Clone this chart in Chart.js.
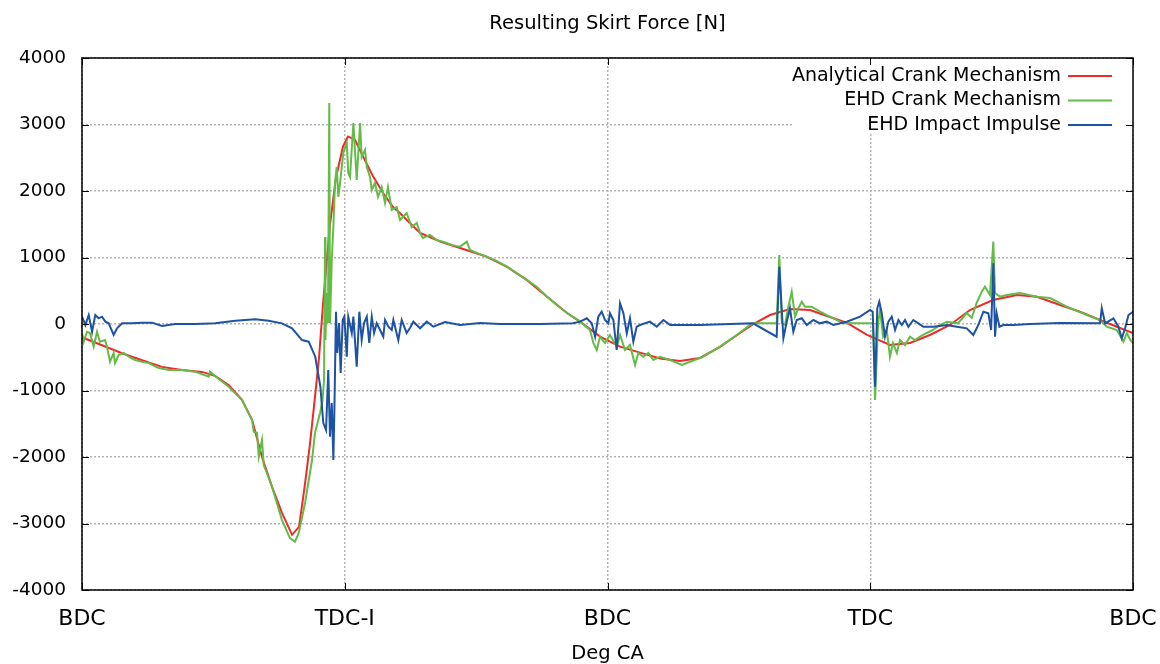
<!DOCTYPE html>
<html>
<head>
<meta charset="utf-8">
<script src="https://cdn.jsdelivr.net/npm/chart.js@4.4.1/dist/chart.umd.min.js"></script>
<style>
  html, body { margin: 0; padding: 0; background: #fff; }
</style>
</head>
<body>
<canvas id="chart" width="1160" height="664"></canvas>
<script>
// crank angle tick names (every 180 deg)
const crankLabels = ['BDC', 'TDC-I', 'BDC', 'TDC', 'BDC'];
const seriesNames = ['Analytical Crank Mechanism', 'EHD Crank Mechanism', 'EHD Impact Impulse'];

// Analytical crank mechanism
const analyticalDeg = [0, 13.7, 27.4, 41.1, 54.8, 68.5, 82.2, 91.1, 100.7, 109.6, 116.5, 123.3, 130.2, 137.0, 143.9, 148.7,
  152.8, 156.2, 159.6, 162.4, 165.1, 167.9, 169.9, 174.0, 178.8, 182.2, 187.0, 192.5, 199.4, 206.2, 213.1, 217.9, 222.7,
  231.6, 245.3, 263.8, 277.5, 291.2, 304.9, 318.6, 332.3, 341.2, 354.9, 368.6, 382.3, 396.0, 409.7, 423.4, 437.1, 450.8,
  461.1, 471.3, 485.0, 498.7, 512.4, 524.1, 537.8, 553.5, 567.2, 580.9, 594.6, 608.3, 624.1, 640.5, 654.2, 670.0, 683.7,
  697.4, 711.1, 720];
const analyticalForce = [-200, -320, -440, -545, -645, -690, -720, -780, -920, -1140, -1440, -2000, -2450, -2840, -3170, -3050,
  -2400, -1800, -1100, -500, 300, 1000, 1500, 2200, 2670, 2820, 2770, 2520, 2220, 1970, 1760, 1665, 1560,
  1370, 1240, 1110, 1010, 860, 660, 410, 165, 35, -190, -340, -430, -520, -555, -510, -345, -135,
  15, 135, 225, 210, 105, 15, -165, -315, -285, -165, -15, 210, 360, 435, 410, 285, 185,
  60, -60, -135];

// EHD crank mechanism
const ehdCrankDeg = [0, 1.2, 3.4, 5.5, 8.0, 10.3, 12.3, 15.8, 17.1, 19.2, 21.7, 22.6, 25.1, 28.6, 32.0, 36.3, 41.1, 45.7,
  52.5, 59.4, 68.5, 77.4, 86.8, 87.7, 91.1, 100.5, 109.6, 116.5, 117.7, 119.9, 121.1, 123.3, 124.5, 130.2, 137.0, 142.5,
  145.9, 148.5, 152.8, 157.6, 159.6, 163.1, 164.8, 165.8, 166.5, 166.8, 167.6, 168.5, 169.4, 169.9, 171.1, 172.2, 173.3,
  174.5, 175.6, 176.8, 179.0, 181.4, 182.4, 183.6, 185.9, 188.2, 190.5, 191.6, 193.9, 195.1, 197.3, 198.5, 200.7, 202.8,
  205.3, 207.6, 209.6, 212.2, 215.6, 217.9, 222.4, 225.9, 229.3, 231.6, 233.6, 238.4, 243.0, 246.5, 249.9, 253.0, 256.0,
  259.0, 263.6, 265.8, 270.5, 277.3, 284.0, 291.2, 298.0, 304.9, 311.5, 318.6, 325.0, 332.3, 341.2, 348.0, 350.3, 352.6,
  354.9, 358.3, 361.7, 366.3, 368.6, 372.0, 375.4, 378.9,
  381.1, 384.5, 388.0, 391.4, 396.0, 402.9, 410.9, 416.6, 425.7, 437.1, 448.5, 457.6, 461.1, 475.9, 477.7, 479.4, 481.6,
  483.9, 486.2, 488.5, 490.8, 493.1, 495.3, 499.9, 505.6, 514.7, 519.3, 521.4, 541.9, 543.3, 545.4, 546.7, 548.8, 551.3,
  553.5, 555.6, 558.2, 560.4, 563.8, 567.2, 570.7, 574.1, 578.7, 583.0, 587.8, 592.4, 600.1, 606.1, 609.5, 612.9, 616.4,
  618.6, 622.0, 624.3, 625.5, 628.9, 633.5, 642.6, 654.1, 663.2, 674.6, 688.3, 697.4, 702.0, 708.9, 713.5, 715.8, 718.1, 720];
const ehdCrankForce = [-135, -266, -116, -135, -341, -116, -266, -241, -341, -567, -436, -587, -466, -436, -492, -541, -567, -587,
  -662, -692, -692, -717, -793, -717, -782, -943, -1143, -1444, -1620, -1639, -1996, -1745, -2121, -2447, -2948, -3219,
  -3274, -3143, -2692, -2045, -1639, -1339, -1143, -842, 1309, -241, 466, 15, 3324, 15, 963, 1459, 2121,
  2361, 1910, 2121, 2572, 2722, 2271, 2211, 3023, 2166, 3023, 2512, 2617, 2361, 2211, 2015, 2121, 1910,
  2060, 1820, 2060, 1715, 1760, 1564, 1669, 1459, 1519, 1369, 1293, 1339, 1263, 1240, 1218, 1190, 1175,
  1163, 1238, 1113, 1070, 1012, 950, 862, 760, 662, 560, 411, 290, 165, 35, -90, -286, -391,
  -191, -286, -165, -341, -165, -391, -316, -617,
  -436, -492, -436, -541, -492, -541, -617, -567, -492, -341, -165, -15, 10, 10, 1038, 15, -15,
  260, 486, 110, 241, 335, 260, 260, 185, 86, 35, 10, 10, -1143, 15, 211, -191, -90,
  -492, -286, -436, -241, -316, -191, -241, -191, -135, -90, -15, 35, 10, 165, 90, 316, 486,
  561, 436, 1238, 466, 411, 436, 466, 411, 391, 260, 135, 60, -41, -90, -266, -135, -241, -286];

// EHD impact impulse
const impulseDeg = [0, 2.3, 4.6, 6.9, 9.1, 11.4, 13.7, 16.0, 18.3, 21.7, 24.0, 27.4, 34.3, 41.1, 48.0, 54.8, 63.9, 77.6,
  91.3, 105.0, 118.7, 127.9, 137.0, 143.9, 150.7, 155.3, 159.8, 163.3, 165.3, 167.2, 168.7, 169.9, 171.1, 172.2, 172.9,
  174.0, 174.9, 176.1, 177.2, 178.6, 179.7, 181.4, 182.4, 184.8, 185.9, 188.2, 190.0, 191.6, 193.2, 195.1, 196.8, 198.5,
  200.1, 201.9, 204.2, 206.4, 207.6, 209.9, 212.2, 213.3, 216.7, 219.0, 222.4, 224.7, 227.0, 231.6, 236.2, 240.7, 248.7,
  259.0, 272.7, 286.4, 313.8, 336.4, 341.2, 345.8, 349.2, 351.5, 353.7, 356.0, 358.3, 360.6, 361.7, 364.0, 366.3, 368.6,
  370.9, 373.2, 375.4, 377.7, 380.0, 382.3, 389.1, 393.7, 398.3, 402.9, 423.4, 459.7, 475.9, 477.7, 480.5, 482.8, 485.0,
  487.3, 489.6, 493.1, 496.5, 501.0, 505.6, 510.2, 514.7, 523.9, 533.0, 539.9, 541.7, 543.3, 544.8, 546.2, 547.9, 550.1,
  552.4, 554.7, 557.0, 559.3, 561.6, 563.8, 566.1, 569.5, 573.0, 576.4, 583.3, 592.4, 599.3, 606.1, 610.6, 614.0, 617.5,
  620.9, 622.8, 624.3, 625.5, 626.6, 628.5, 631.2, 638.0, 649.5, 670.0, 697.4, 698.6, 700.9, 706.6, 710.0, 712.3, 714.6,
  716.9, 720];
const impulseForce = [110, -15, 135, -116, 135, 86, 110, 35, 10, -165, -65, 10, 10, 20, 20, -30, 0, 0,
  10, 50, 70, 50, 10, -65, -241, -266, -492, -943, -1489, -1594, -692, -1695, -1188, -2045, -1293,
  185, -436, 15, -737, 60, 110, -492, 110, -135, 110, -642, 185, -241, 10, 110, -286, 110,
  -135, 10, -90, -191, 60, -41, -90, 60, -241, 60, -135, -60, 35, -65, 35, -41, 30,
  -15, 15, 0, 0, 10, 35, 86, 10, -191, 110, 185, 60, 10, 161, 60, -391, 311,
  161, -140, 86, -266, -41, -15, 35, -41, 60, -15, -15, 10, -191, 862, -215, 35, 236,
  -116, 60, 86, -15, 60, 10, 35, -15, 35, 110, 211, 185, -943, 236, 335, 161, -191,
  35, 110, -90, 60, -15, 60, -41, 60, 10, -41, -41, -15, -41, -65, -165, -15, 185,
  161, -90, 913, -191, 161, -41, -15, -15, 0, 15, 10, 236, 10, 86, -41, -215, -65,
  135, 185];

const seriesColors = ['#ee2a2a', '#64bb48', '#1e52a3'];

function toPoints(xs, ys) {
  return xs.map((x, i) => ({ x: x, y: ys[i] }));
}

Chart.defaults.font.family = "'DejaVu Sans', sans-serif";
Chart.defaults.color = '#000';

// gnuplot style frame, inward ticks and key box
const gnuplotFrame = {
  id: 'gnuplotFrame',
  beforeDatasetsDraw(chart) {
    const ctx = chart.ctx;
    const a = chart.chartArea;
    ctx.save();
    ctx.fillStyle = '#fff';
    ctx.fillRect(793, a.top + 1, a.right - 793, 133 - a.top);
    ctx.restore();
  },
  afterDatasetsDraw(chart) {
    const ctx = chart.ctx;
    const a = chart.chartArea;
    const xs = chart.scales.x, ys = chart.scales.y;
    ctx.save();
    ctx.strokeStyle = '#000';
    ctx.lineWidth = 1.5;
    ctx.strokeRect(a.left, a.top, a.right - a.left, a.bottom - a.top);
    ctx.lineWidth = 1;
    ctx.beginPath();
    ys.ticks.forEach(t => {
      const y = Math.round(ys.getPixelForValue(t.value)) + 0.5;
      ctx.moveTo(a.left, y); ctx.lineTo(a.left + 7, y);
      ctx.moveTo(a.right, y); ctx.lineTo(a.right - 7, y);
    });
    xs.ticks.forEach(t => {
      const x = Math.round(xs.getPixelForValue(t.value)) + 0.5;
      ctx.moveTo(x, a.bottom); ctx.lineTo(x, a.bottom - 7);
      ctx.moveTo(x, a.top); ctx.lineTo(x, a.top + 7);
    });
    ctx.stroke();

    // key: text right aligned, sample line on the right
    ctx.font = "19px 'DejaVu Sans', sans-serif";
    ctx.textAlign = 'right';
    ctx.textBaseline = 'middle';
    chart.data.datasets.forEach((ds, i) => {
      const y = 76 + i * 24.5;
      ctx.fillStyle = '#000';
      ctx.fillText(ds.label, 1061, y);
      ctx.strokeStyle = ds.borderColor;
      ctx.lineWidth = 2;
      ctx.beginPath();
      ctx.moveTo(1068, y);
      ctx.lineTo(1112, y);
      ctx.stroke();
    });
    ctx.restore();
  }
};

new Chart(document.getElementById('chart').getContext('2d'), {
  type: 'line',
  data: {
    datasets: [
      { label: seriesNames[0], data: toPoints(analyticalDeg, analyticalForce), borderColor: seriesColors[0], order: 3 },
      { label: seriesNames[1], data: toPoints(ehdCrankDeg, ehdCrankForce), borderColor: seriesColors[1], order: 2 },
      { label: seriesNames[2], data: toPoints(impulseDeg, impulseForce), borderColor: seriesColors[2], order: 1 }
    ]
  },
  options: {
    responsive: false,
    animation: false,
    parsing: false,
    elements: {
      line: { borderWidth: 2, tension: 0, fill: false },
      point: { radius: 0 }
    },
    layout: { padding: { left: 0, right: 27, top: 0, bottom: 0 } },
    plugins: {
      legend: { display: false },
      tooltip: { enabled: false },
      title: {
        display: true,
        fullSize: false,
        text: 'Resulting Skirt Force [N]',
        font: { size: 19.5, weight: 'normal' },
        color: '#000',
        padding: { top: 12.5, bottom: 22.1 }
      }
    },
    scales: {
      x: {
        type: 'linear',
        min: 0,
        max: 720,
        ticks: {
          stepSize: 180,
          padding: 16,
          font: { size: 22 },
          maxRotation: 0,
          callback: v => crankLabels[Math.round(v / 180)]
        },
        grid: { color: '#b4b4b4', lineWidth: 1.5, drawTicks: false },
        border: { display: false, dash: [2, 2] },
        title: { display: true, text: 'Deg CA', font: { size: 19.5, lineHeight: 1 }, padding: { top: 0, bottom: 0 } },
        afterFit: s => { s.height = 74; s.paddingLeft = 0; s.paddingRight = 0; }
      },
      y: {
        min: -4000,
        max: 4000,
        ticks: {
          stepSize: 1000,
          padding: 16,
          font: { size: 18.5 },
          callback: v => String(v)
        },
        grid: { color: '#b4b4b4', lineWidth: 1.5, drawTicks: false },
        border: { display: false, dash: [2, 2] },
        afterFit: s => { s.width = 82; s.paddingTop = 0; s.paddingBottom = 0; }
      }
    }
  },
  plugins: [gnuplotFrame]
});
</script>
</body>
</html>
